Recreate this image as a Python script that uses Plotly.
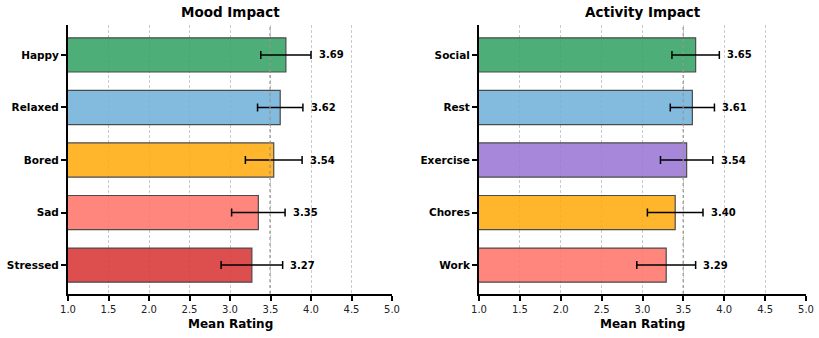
import plotly.graph_objects as go

mood_labels = ["Stressed", "Sad", "Bored", "Relaxed", "Happy"]
mood_means = [3.27, 3.35, 3.54, 3.62, 3.69]
mood_errs = [0.38, 0.33, 0.35, 0.28, 0.31]
mood_colors = ["#d93636", "#ff766a", "#ffab10", "#72b2db", "#35a565"]

act_labels = ["Work", "Chores", "Exercise", "Rest", "Social"]
act_means = [3.29, 3.40, 3.54, 3.61, 3.65]
act_errs = [0.36, 0.34, 0.32, 0.27, 0.29]
act_colors = ["#ff766a", "#ffab10", "#9c77d6", "#72b2db", "#35a565"]

overall_mean_mood = sum(mood_means) / len(mood_means)
overall_mean_act = sum(act_means) / len(act_means)

xticks = [1.0, 1.5, 2.0, 2.5, 3.0, 3.5, 4.0, 4.5, 5.0]

fig = go.Figure()

domains = [(68 / 819, 392 / 819), (479 / 819, 806 / 819)]
ydom = (1 - 294 / 338, 1 - 25 / 338)

panels = [
    ("Mood Impact", mood_labels, mood_means, mood_errs, mood_colors, overall_mean_mood),
    ("Activity Impact", act_labels, act_means, act_errs, act_colors, overall_mean_act),
]

for i, (title, labels, means, errs, colors, omean) in enumerate(panels):
    xa = "x" if i == 0 else "x2"
    ya = "y" if i == 0 else "y2"
    fig.add_trace(go.Bar(
        y=list(range(len(labels))), x=means, orientation="h",
        marker=dict(color=colors, opacity=0.88, line=dict(color="#333333", width=1.2)),
        width=0.65,
        error_x=dict(type="data", array=errs, color="black", thickness=1.5, width=4),
        xaxis=xa, yaxis=ya, showlegend=False,
    ))
    fig.add_trace(go.Scatter(
        x=[omean, omean], y=[-0.55, 4.57], mode="lines",
        line=dict(color="rgba(150,150,150,0.8)", width=1.5, dash="dot"),
        xaxis=xa, yaxis=ya, showlegend=False, hoverinfo="skip",
    ))
    for j, (m, e) in enumerate(zip(means, errs)):
        fig.add_annotation(
            x=m + e + 0.07, y=j, xref=xa, yref=ya, text=f"{m:.2f}",
            showarrow=False, xanchor="left", yanchor="middle",
            font=dict(family="DejaVu Sans", size=10, color="black", weight="bold"),
        )
    d = domains[i]
    fig.add_annotation(
        x=(d[0] + d[1]) / 2, y=1 - 12 / 338, xref="paper", yref="paper",
        text=f"<b>{title}</b>", showarrow=False, xanchor="center", yanchor="middle",
        font=dict(family="DejaVu Sans", size=13.5, color="black"),
    )
    fig.add_annotation(
        x=(d[0] + d[1]) / 2, y=1 - 324 / 338, xref="paper", yref="paper",
        text="<b>Mean Rating</b>", showarrow=False, xanchor="center", yanchor="middle",
        font=dict(family="DejaVu Sans", size=12, color="black"),
    )
    xkey = "xaxis" if i == 0 else "xaxis2"
    ykey = "yaxis" if i == 0 else "yaxis2"
    fig.update_layout(**{
        xkey: dict(
            domain=list(d), anchor=ya, range=[1.0, 5.0], automargin=False,
            tickvals=xticks, ticktext=[f"{t:.1f}" for t in xticks],
            showline=True, linecolor="black", linewidth=2,
            ticks="outside", ticklen=5, tickwidth=2, tickcolor="black",
            showgrid=True, gridcolor="rgba(180,180,180,0.7)", griddash="3px,2px", gridwidth=1,
            zeroline=False,
            tickfont=dict(family="DejaVu Sans", size=10, color="#222222"),
        ),
        ykey: dict(
            domain=list(ydom), anchor=xa, range=[-0.55, 4.57], automargin=False,
            tickvals=list(range(len(labels))), ticktext=[f"<b>{l}</b>" for l in labels],
            showline=True, linecolor="black", linewidth=2,
            ticks="outside", ticklen=5, tickwidth=2, tickcolor="black",
            showgrid=False, zeroline=False,
            tickfont=dict(family="DejaVu Sans", size=10.5, color="black"),
        ),
    })

fig.update_layout(
    width=819, height=338, margin=dict(l=0, r=0, t=0, b=0, autoexpand=False),
    paper_bgcolor="white", plot_bgcolor="white", bargap=0.35,
)

fig.write_html("out.html")
